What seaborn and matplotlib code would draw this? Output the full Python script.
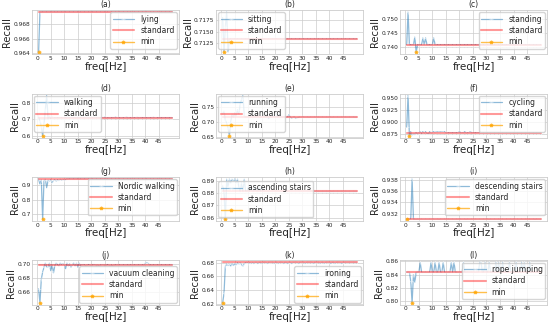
import numpy as np
import pandas as pd
import matplotlib
matplotlib.use('Agg')
import matplotlib.pyplot as plt
import seaborn as sns

# frequency grid (Hz)
freq = np.arange(1, 101) * 0.5

activities = ['lying', 'sitting', 'standing', 'walking', 'running', 'cycling',
              'Nordic walking', 'ascending stairs', 'descending stairs',
              'vacuum cleaning', 'ironing', 'rope jumping']
panels = ['(a)', '(b)', '(c)', '(d)', '(e)', '(f)', '(g)', '(h)', '(i)', '(j)', '(k)', '(l)']

# recall of the standard setting (plateau of each curve)
standard = [0.9697, 0.7134, 0.7408, 0.7105, 0.7145, 0.8765,
            0.9400, 0.8812, 0.9310, 0.6985, 0.6805, 0.8435]

# y tick labels shown on each panel
yticks = [['0.964', '0.966', '0.968'],
          ['0.7125', '0.7150', '0.7175'],
          ['0.740', '0.745', '0.750'],
          ['0.6', '0.7', '0.8'],
          ['0.65', '0.70', '0.75'],
          ['0.875', '0.900', '0.925', '0.950'],
          ['0.7', '0.8', '0.9'],
          ['0.86', '0.87', '0.88', '0.89'],
          ['0.932', '0.934', '0.936', '0.938'],
          ['0.66', '0.68', '0.70'],
          ['0.62', '0.64', '0.66', '0.68'],
          ['0.80', '0.82', '0.84', '0.86']]

# points where recall differs from the standard value: (freq, recall)
lying_dev = [(0.5, 0.9641)]
sitting_dev = [(0.5, 0.7180), (1.0, 0.7105), (1.5, 0.7160), (2.0, 0.7192), (2.5, 0.7106)]
standing_dev = [(1.0, 0.7525), (3.5, 0.7435), (4.0, 0.7380), (6.5, 0.7432), (7.5, 0.7432),
                (10.5, 0.7432)]
walking_dev = [(0.5, 0.720), (1.0, 0.690), (1.5, 0.660), (2.0, 0.600), (2.5, 0.670),
               (3.0, 0.760), (3.5, 0.845), (4.0, 0.700), (4.5, 0.720), (5.0, 0.705),
               (5.5, 0.715), (17.0, 0.713), (19.0, 0.708), (21.0, 0.713), (23.0, 0.709),
               (25.0, 0.713), (27.0, 0.708), (29.0, 0.713), (31.0, 0.709), (33.0, 0.713),
               (35.0, 0.708), (37.0, 0.712), (40.0, 0.709), (43.0, 0.712)]
running_dev = [(0.5, 0.725), (1.0, 0.735), (1.5, 0.705), (2.0, 0.695), (2.5, 0.680),
               (3.0, 0.652), (3.5, 0.700), (4.0, 0.725), (4.5, 0.715), (5.0, 0.730),
               (5.5, 0.720), (6.0, 0.740), (6.5, 0.725), (7.0, 0.760), (7.5, 0.775),
               (8.0, 0.788), (8.5, 0.720), (9.0, 0.715), (17.0, 0.722), (17.5, 0.710),
               (18.0, 0.716), (19.0, 0.716), (19.5, 0.722), (20.0, 0.716), (20.5, 0.722),
               (21.0, 0.716), (21.5, 0.724), (22.0, 0.716), (25.0, 0.723), (25.5, 0.716),
               (26.0, 0.712), (27.0, 0.716), (27.5, 0.711), (28.0, 0.713)]
cycling_dev = [(0.5, 0.888), (1.0, 0.955), (1.5, 0.870), (2.0, 0.879), (2.5, 0.872),
               (3.0, 0.874), (3.5, 0.873), (4.0, 0.877), (4.5, 0.874), (5.0, 0.876),
               (5.5, 0.879), (6.0, 0.875), (6.5, 0.879), (7.0, 0.876), (7.5, 0.879),
               (8.0, 0.875), (8.5, 0.874), (9.0, 0.879), (9.5, 0.876), (10.0, 0.878),
               (10.5, 0.879), (11.0, 0.877), (11.5, 0.879), (12.0, 0.878), (12.5, 0.879),
               (13.0, 0.878), (13.5, 0.879), (14.0, 0.878), (14.5, 0.879), (20.0, 0.879),
               (22.0, 0.879), (24.0, 0.879)]
nordic_dev = [(1.0, 0.905), (1.5, 0.935), (2.0, 0.665), (2.5, 0.930), (3.0, 0.938),
              (3.5, 0.880), (4.0, 0.932), (4.5, 0.925), (5.0, 0.935), (5.5, 0.915),
              (6.0, 0.930), (6.5, 0.935), (7.0, 0.925), (7.5, 0.935), (8.0, 0.930),
              (8.5, 0.938), (9.0, 0.932), (9.5, 0.938), (10.0, 0.932), (10.5, 0.936)]
ascending_dev = [(0.5, 0.8860), (1.5, 0.8588), (2.0, 0.8910), (2.5, 0.8850), (3.0, 0.8912),
                 (3.5, 0.8880), (4.0, 0.8910), (4.5, 0.8895), (5.0, 0.8912), (5.5, 0.8880),
                 (6.0, 0.8910), (6.5, 0.8850), (7.5, 0.8880), (8.5, 0.8910), (10.0, 0.8850),
                 (11.0, 0.8850), (12.5, 0.8850), (14.0, 0.8850), (15.0, 0.8850)]
descending_dev = [(2.5, 0.9381)]
vacuum_dev = [(0.5, 0.664), (1.0, 0.644), (1.5, 0.678), (2.0, 0.688), (2.5, 0.695),
              (3.0, 0.701), (3.5, 0.695), (4.0, 0.695), (4.5, 0.701), (5.0, 0.690),
              (5.5, 0.699), (6.0, 0.687), (6.5, 0.697), (7.0, 0.701), (7.5, 0.699),
              (8.0, 0.697), (8.5, 0.701), (9.0, 0.699), (9.5, 0.700), (10.0, 0.699),
              (10.5, 0.693), (11.0, 0.701), (11.5, 0.697), (12.0, 0.700), (12.5, 0.695),
              (13.0, 0.699), (13.5, 0.701), (14.0, 0.697), (14.5, 0.701), (15.0, 0.695),
              (15.5, 0.701), (16.0, 0.697), (17.0, 0.699), (18.0, 0.697), (19.0, 0.699),
              (20.0, 0.697), (21.0, 0.699), (22.0, 0.697), (23.0, 0.697), (25.0, 0.697),
              (26.0, 0.699), (27.0, 0.697), (28.0, 0.697), (40.0, 0.701), (40.5, 0.702),
              (41.0, 0.701)]
ironing_dev = [(0.5, 0.621), (1.0, 0.635), (1.5, 0.675), (2.0, 0.678), (2.5, 0.676),
               (3.0, 0.678), (3.5, 0.675), (4.0, 0.679), (4.5, 0.676), (5.0, 0.679),
               (5.5, 0.677), (6.0, 0.680), (6.5, 0.678), (7.0, 0.680), (7.5, 0.677),
               (8.0, 0.675), (8.5, 0.679), (9.0, 0.680), (10.0, 0.679), (11.0, 0.679),
               (12.0, 0.679), (13.5, 0.679), (15.0, 0.679), (17.0, 0.679), (19.5, 0.679),
               (21.0, 0.679), (23.0, 0.679), (24.5, 0.679), (26.0, 0.679), (28.5, 0.679),
               (31.0, 0.679), (34.0, 0.679), (36.5, 0.679), (38.0, 0.679), (40.5, 0.679),
               (42.0, 0.679), (44.5, 0.679)]
rope_dev = [(2.0, 0.830), (2.5, 0.797), (3.0, 0.840), (3.5, 0.828), (5.5, 0.8585),
            (9.5, 0.8585), (11.0, 0.8585), (12.5, 0.8585), (14.0, 0.8585), (17.0, 0.8585),
            (18.0, 0.8585), (21.5, 0.8585), (27.5, 0.8585), (28.0, 0.8585), (29.5, 0.8585),
            (31.0, 0.8585), (33.5, 0.8585), (34.5, 0.8585), (36.0, 0.8585), (38.5, 0.8585),
            (41.0, 0.8585), (43.0, 0.8585), (44.0, 0.8585), (46.0, 0.8585)]

deviations = [lying_dev, sitting_dev, standing_dev, walking_dev, running_dev, cycling_dev,
              nordic_dev, ascending_dev, descending_dev, vacuum_dev, ironing_dev, rope_dev]

legend_loc = ['upper right', 'upper left', 'upper right', 'upper left', 'upper left',
              'upper right', 'upper right', 'center left', 'upper right', 'lower right',
              'lower right', 'upper right']

sns.set_theme(style='whitegrid')
plt.rcParams['font.family'] = ['DejaVu Sans']

fig, axes = plt.subplots(4, 3, figsize=(5.5, 3.25), dpi=100)
fig.subplots_adjust(left=0.058, right=0.995, top=0.969, bottom=0.062,
                    wspace=0.25, hspace=0.88)

for i, ax in enumerate(axes.flat):
    recall = np.full(len(freq), standard[i])
    for f, v in deviations[i]:
        recall[int(round(f / 0.5)) - 1] = v
    df = pd.DataFrame({'freq': freq, 'recall': recall, 'standard': standard[i]})

    sns.lineplot(data=df, x='freq', y='recall', ax=ax, color='#1f77b4', alpha=0.5,
                 lw=0.9, marker='+', markersize=3, mew=0.6, label=activities[i])
    sns.lineplot(data=df, x='freq', y='standard', ax=ax, color='red', alpha=0.4,
                 lw=1.5, label='standard')
    k = int(np.argmin(recall))
    ax.plot(freq[k], recall[k], marker='*', color='orange', ms=2.5, alpha=0.7,
            lw=1, label='min')

    ax.set_title(panels[i], fontsize=5.5, pad=2)
    ax.set_xlabel('freq[Hz]', fontsize=7.5, labelpad=0.5)
    ax.set_ylabel('Recall', fontsize=7.2, labelpad=1)
    ax.set_xticks(np.arange(0, 50, 5))
    ax.set_yticks([float(t) for t in yticks[i]], labels=yticks[i])
    ax.tick_params(axis='both', labelsize=4.2, pad=1, length=0)
    for s in ax.spines.values():
        s.set_linewidth(0.6)
    ax.grid(linewidth=0.5)
    ax.legend(loc=legend_loc[i], fontsize=5.5, frameon=True, borderpad=0.3,
              labelspacing=0.3, handlelength=2.8, borderaxespad=0.3)

plt.savefig('out.png', dpi=100)
